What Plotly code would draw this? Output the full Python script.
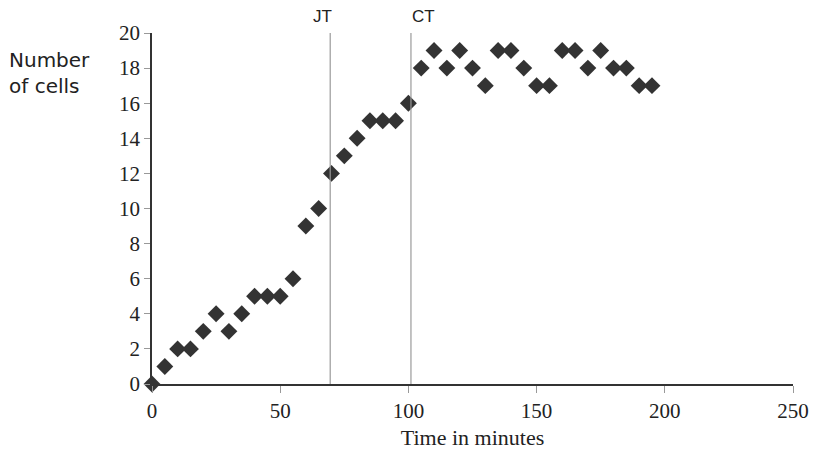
import plotly.graph_objects as go

# time (minutes) and cell counts
minutes = [0, 5, 10, 15, 20, 25, 30, 35, 40, 45, 50, 55, 60, 65, 70, 75, 80, 85, 90, 95,
           100, 105, 110, 115, 120, 125, 130, 135, 140, 145, 150, 155, 160, 165, 170, 175,
           180, 185, 190, 195]
cells = [0, 1, 2, 2, 3, 4, 3, 4, 5, 5, 5, 6, 9, 10, 12, 13, 14, 15, 15, 15,
         16, 18, 19, 18, 19, 18, 17, 19, 19, 18, 17, 17, 19, 19, 18, 19,
         18, 18, 17, 17]

events = {"JT": 69.5, "CT": 101}

fig = go.Figure()
fig.add_trace(go.Scatter(x=minutes, y=cells, mode='markers',
                         marker=dict(symbol='diamond', size=13, color='#333333'),
                         cliponaxis=False, showlegend=False))

for name, xv in events.items():
    fig.add_shape(type='line', x0=xv, x1=xv, y0=0, y1=1, yref='paper',
                  line=dict(color='#9a9a9a', width=1.2))
    if name == 'JT':
        anchor, shift = 'right', 4
    else:
        anchor, shift = 'left', -1
    fig.add_annotation(x=xv, y=1, yref='paper', text=name, showarrow=False,
                       xanchor=anchor, xshift=shift, yanchor='bottom', yshift=5,
                       font=dict(family='Liberation Sans', size=17, color='#222'))

# y axis label sits to the left, horizontal
fig.add_annotation(x=-0.226, y=0.886, xref='x domain', yref='y domain',
                   text='Number<br>of cells', showarrow=False, align='left',
                   xanchor='left', yanchor='middle',
                   font=dict(family='DejaVu Sans', size=20, color='#222'))

fig.update_layout(
    width=813, height=456,
    margin=dict(l=152, r=20, t=33, b=72),
    plot_bgcolor='white', paper_bgcolor='white',
    font=dict(family='Liberation Serif', size=21, color='#222'),
    xaxis=dict(range=[0, 250], tickvals=[0, 50, 100, 150, 200, 250], automargin=False,
               showgrid=False, zeroline=False, showline=True, linecolor='#333',
               linewidth=1.5, ticks='outside', ticklen=7, tickcolor='#999',
               title=dict(text='Time in minutes', font=dict(size=22), standoff=8)),
    yaxis=dict(range=[0, 20], tickvals=list(range(0, 21, 2)), automargin=False,
               showgrid=False, zeroline=False, showline=True, linecolor='#333',
               linewidth=1.5, ticks='outside', ticklen=6, tickcolor='#999'),
)

# drop the default page margin so the figure fills the window
fig.write_html("out.html", config={'displayModeBar': False},
               post_script="document.body.style.margin='0';")
